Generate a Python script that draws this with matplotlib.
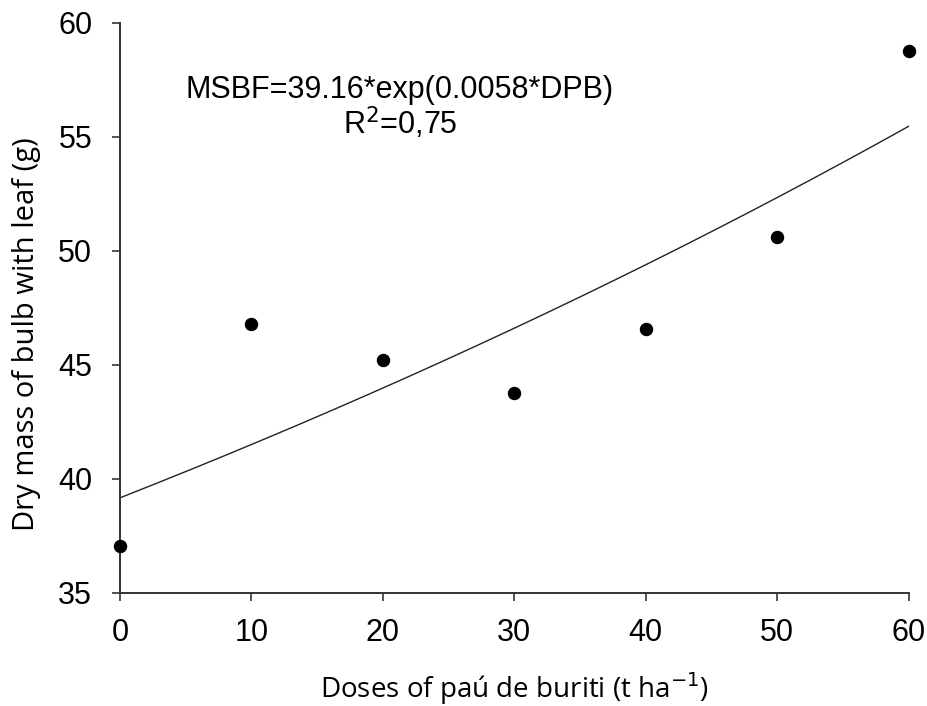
import matplotlib.pyplot as plt
import numpy as np

# observed data
doses = [0, 10, 20, 30, 40, 50, 60]
dry_mass = [37.05, 46.78, 45.2, 43.75, 46.55, 50.6, 58.75]

# fitted model MSBF = a*exp(b*DPB)
a = 39.16
b = 0.0058
x_ticks = [0, 10, 20, 30, 40, 50, 60]
y_ticks = [35, 40, 45, 50, 55, 60]

fig = plt.figure(figsize=(9.27, 7.06), dpi=100)
ax = fig.add_axes([0.1294, 0.1605, 0.8509, 0.8073])

xf = np.linspace(0, 60, 200)
ax.plot(xf, a * np.exp(b * xf), color="#222222", lw=1.0)
ax.scatter(doses, dry_mass, s=75, color="black", zorder=3, clip_on=False)

ax.set_xlim(0, 60)
ax.set_ylim(35, 60)
ax.set_xticks(x_ticks)
ax.set_yticks(y_ticks)
tick_font = {"family": "Liberation Sans", "size": 22}
ax.set_xticklabels([str(v) for v in x_ticks], fontdict=tick_font)
ax.set_yticklabels([str(v) for v in y_ticks], fontdict=tick_font)
ax.tick_params(length=6, width=1.2, color="#333333")
ax.tick_params(axis="x", pad=12)
ax.tick_params(axis="y", pad=14)

for side in ["top", "right"]:
    ax.spines[side].set_visible(False)
for side in ["left", "bottom"]:
    ax.spines[side].set_color("#333333")
    ax.spines[side].set_linewidth(1.4)

ax.set_xlabel("Doses of paú de buriti (t ha$^{-1}$)", family="Open Sans",
              fontsize=20, labelpad=16)
# y label sits a little below the axis centre in the original
fig.text(27 / 927, 1 - 334 / 706, "Dry mass of bulb with leaf (g)",
         family="Open Sans", fontsize=21, rotation=90,
         ha="center", va="center")

ax.text(21.3, 56.7, "MSBF=39.16*exp(0.0058*DPB)", ha="center", va="baseline",
        family="Liberation Sans", fontsize=22)
ax.text(21.3, 55.12, "R$^2$=0,75", ha="center", va="baseline",
        family="Liberation Sans", fontsize=22)

fig.savefig("out.png", dpi=100)
